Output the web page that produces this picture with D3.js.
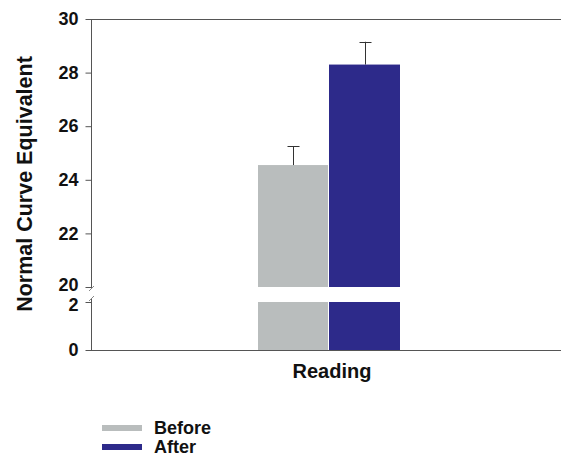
<!DOCTYPE html>
<html><head><meta charset="utf-8">
<script src="https://cdn.jsdelivr.net/npm/d3@7"></script>
<style>body{margin:0;background:#fff}svg{display:block}text{font-family:Arial,"Liberation Sans",sans-serif;font-weight:bold;fill:#111}</style>
</head><body>
<script>
const categories = ["Reading"];
const seriesNames = ["Before", "After"];
const beforeValues = [24.55];
const afterValues = [28.3];
const beforeErrors = [0.7];
const afterErrors = [0.85];
const upperTicks = [20, 22, 24, 26, 28, 30];
const lowerTicks = [0, 2];
const colors = ["#b9bdbd", "#2d2a8a"];

const W = 561, H = 461;
const svg = d3.select("body").append("svg").attr("width", W).attr("height", H);

const x0 = 91, x1 = 561;
const yUp = d3.scaleLinear().domain([20, 30]).range([287, 19]);
const yLo = d3.scaleLinear().domain([0, 2]).range([350, 302]);
const xSer = d3.scaleBand().domain(seriesNames).range([258, 400]).padding(0);

const rows = categories.map((c, i) => ({
  cat: c,
  vals: [
    {s: "Before", v: beforeValues[i], e: beforeErrors[i]},
    {s: "After", v: afterValues[i], e: afterErrors[i]}
  ]
}));

const g = svg.append("g");
rows.forEach(r => {
  r.vals.forEach((d, j) => {
    const bx = xSer(d.s);
    const bw = xSer.bandwidth() - (j === 0 ? 1 : 0);
    g.append("rect").attr("x", bx).attr("y", yUp(d.v)).attr("width", bw)
      .attr("height", yUp(20) - yUp(d.v)).attr("fill", colors[j]);
    g.append("rect").attr("x", bx).attr("y", yLo(2)).attr("width", bw)
      .attr("height", yLo(0) - yLo(2)).attr("fill", colors[j]);
    const cx = Math.round(bx + bw / 2) + 0.5;
    g.append("line").attr("x1", cx).attr("x2", cx).attr("y1", yUp(d.v)).attr("y2", yUp(d.v + d.e))
      .attr("stroke", "#333").attr("stroke-width", 1);
    g.append("line").attr("x1", cx - 6).attr("x2", cx + 6).attr("y1", Math.round(yUp(d.v + d.e)) + 0.5).attr("y2", Math.round(yUp(d.v + d.e)) + 0.5)
      .attr("stroke", "#333").attr("stroke-width", 1);
  });
});

// frame lines
svg.append("line").attr("x1", x0).attr("x2", x1).attr("y1", yUp(30) + 0.5).attr("y2", yUp(30) + 0.5)
  .attr("stroke", "#555").attr("stroke-width", 1);
svg.append("line").attr("x1", x0).attr("x2", x1).attr("y1", yLo(0) + 0.5).attr("y2", yLo(0) + 0.5)
  .attr("stroke", "#555").attr("stroke-width", 1);

// y axes
const axUp = d3.axisLeft(yUp).tickValues(upperTicks).tickFormat(d3.format("d")).tickSize(6).tickPadding(7);
const axLo = d3.axisLeft(yLo).tickValues(lowerTicks).tickFormat(d3.format("d")).tickSize(6).tickPadding(7);
const gUp = svg.append("g").attr("transform", `translate(${x0 + 0.5},0)`).call(axUp);
const gLo = svg.append("g").attr("transform", `translate(${x0 + 0.5},0)`).call(axLo);
[gUp, gLo].forEach(a => {
  a.select(".domain").remove();
  a.selectAll(".tick line").attr("stroke", "#555");
  a.selectAll(".tick text").style("font-size", "18px").style("font-family", "Arial, 'Liberation Sans', sans-serif").style("font-weight", "bold").attr("fill", "#111");
});
gUp.selectAll(".tick").filter(d => d === 20).select("text").attr("dy", "0.2em");
gLo.selectAll(".tick").filter(d => d === 2).select("text").attr("dy", "0.45em");
// axis line in two pieces with break
svg.append("line").attr("x1", x0 + 0.5).attr("x2", x0 + 0.5).attr("y1", yUp(30)).attr("y2", 289)
  .attr("stroke", "#555").attr("stroke-width", 1);
svg.append("line").attr("x1", x0 + 0.5).attr("x2", x0 + 0.5).attr("y1", 299).attr("y2", yLo(0))
  .attr("stroke", "#555").attr("stroke-width", 1);
[289, 299].forEach(yy => {
  svg.append("line").attr("x1", x0 - 2).attr("y1", yy + 2).attr("x2", x0 + 3).attr("y2", yy - 3)
    .attr("stroke", "#888").attr("stroke-width", 1);
});

// category label
svg.selectAll(".cat").data(categories).enter().append("text")
  .attr("x", d => xSer.range()[0] + (xSer.range()[1] - xSer.range()[0]) / 2 + 3)
  .attr("y", 378).attr("text-anchor", "middle").style("font-size", "20px").text(d => d);

// y label
svg.append("text").attr("transform", "translate(32,184) rotate(-90)").attr("text-anchor", "middle")
  .style("font-size", "21.5px").text("Normal Curve Equivalent");

// legend
const leg = svg.append("g");
seriesNames.forEach((s, i) => {
  const yy = 425 + i * 19;
  leg.append("rect").attr("x", 102).attr("y", yy).attr("width", 40).attr("height", 6).attr("fill", colors[i]);
  leg.append("text").attr("x", 154).attr("y", yy + 9).style("font-size", "18px").text(s);
});
</script>
</body></html>
